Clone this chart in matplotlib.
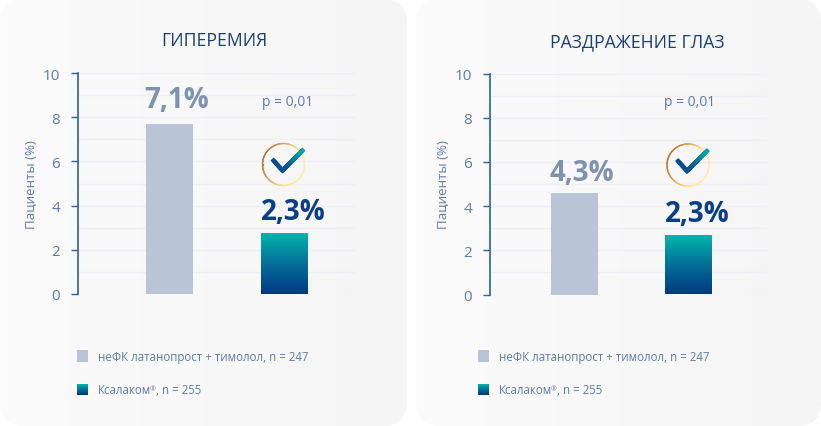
#!/usr/bin/env python3

import numpy as np
import matplotlib
matplotlib.use('Agg')
import matplotlib.pyplot as plt
from matplotlib.colors import LinearSegmentedColormap
from matplotlib.patches import FancyBboxPatch, Rectangle
from matplotlib.ticker import MultipleLocator

plt.rcParams['font.family'] = ['Open Sans', 'DejaVu Sans']

W, H = 821, 427

titles = ['ГИПЕРЕМИЯ', 'РАЗДРАЖЕНИЕ ГЛАЗ']
comparator = [7.7, 4.6]
xalacom = [2.75, 2.65]
comparator_labels = ['7,1%', '4,3%']
xalacom_labels = ['2,3%', '2,3%']
p_labels = ['p = 0,01', 'p = 0,01']
ylabel = 'Пациенты (%)'
legend_first = 'неФК латанопрост + тимолол, n = 247'
legend_second = ['Ксалаком', '®', ', n = 255']

BLUE = '#2f619f'
TICK = '#5f7ba8'
GREY_BAR = '#b9c5d6'
GREY_TEXT = '#8093ae'
NAVY = '#0a3f85'
TITLE = '#1d3f74'
bar_cmap = LinearSegmentedColormap.from_list('bar', ['#00b5ac', '#066f98', '#003a82'])
ring_cmap = LinearSegmentedColormap.from_list('ring', ['#bd7236', '#dda862', '#fbe48f', '#fdeeb0'])
check_cmap = LinearSegmentedColormap.from_list('check', ['#0a4a8c', '#0a5590', '#05a5a5'])
panel_cmap = LinearSegmentedColormap.from_list('panel', ['#fbfbfb', '#f5f5f6'])

fig = plt.figure(figsize=(W / 100, H / 100), dpi=100, facecolor='white')

# background layer in pixel coordinates, y pointing down
bg = fig.add_axes([0, 0, 1, 1], zorder=0)
bg.set_xlim(0, W)
bg.set_ylim(H, 0)
bg.axis('off')

fg = fig.add_axes([0, 0, 1, 1], zorder=5)
fg.set_xlim(0, W)
fg.set_ylim(H, 0)
fg.axis('off')
fg.patch.set_alpha(0)


def gradient_rect(ax, x0, y0, x1, y1, cmap, zorder=3):
    g = np.linspace(0, 1, 64)[:, None]
    ax.imshow(g, extent=(x0, x1, y1, y0), cmap=cmap, aspect='auto', zorder=zorder, interpolation='bilinear')


def draw_check(cx, cy):
    t = np.linspace(0, 2 * np.pi, 180)
    rx = cx + 21 * np.cos(t)
    ry = cy + 21 * np.sin(t)
    c = ring_cmap((np.cos(t - np.pi / 8) + 1) / 2)
    for i in range(len(t) - 1):
        fg.plot(rx[i:i + 2], ry[i:i + 2], color=c[i], lw=1.0, solid_capstyle='round')
    px = np.array([cx - 10, cx - 1, cx + 19])
    py = np.array([cy - 4, cy + 6, cy - 14])
    fx = np.concatenate([np.linspace(px[0], px[1], 12), np.linspace(px[1], px[2], 30)])
    fy = np.concatenate([np.linspace(py[0], py[1], 12), np.linspace(py[1], py[2], 30)])
    for i in range(len(fx) - 1):
        fg.plot(fx[i:i + 2], fy[i:i + 2], color=check_cmap(i / (len(fx) - 2)), lw=3.0,
                solid_capstyle='projecting')


panels = [(0, 407), (416, 821)]
axis_x = [78, 490]
grid_end = [355, 767]
bar_centers = [(169.5, 284), (574.5, 688)]
top_px = [74, 74.5]
bottom_px = [295, 295.5]
title_x = [214.5, 637]
title_y = [41, 42]
p_x = [288, 690]
p_y = [102, 102]
comp_label_y = [101, 174]
xal_label_y = [213, 215]
check_xy = [(283.5, 165.5), (688, 166)]
swatch_x = [77, 478]
legend_text_x = [98, 499]

for i in range(2):
    x0, x1 = panels[i]
    g = np.linspace(0, 1, 64)[None, :]
    im = bg.imshow(g, extent=(x0, x1, H, 0), cmap=panel_cmap, aspect='auto', zorder=1)
    box = FancyBboxPatch((x0 + 24, 24), x1 - x0 - 48, H - 48, boxstyle='round,pad=24,rounding_size=24',
                         transform=bg.transData, facecolor='none', edgecolor='none')
    bg.add_patch(box)
    im.set_clip_path(box)

    spacing = bar_centers[i][1] - bar_centers[i][0]
    ax = fig.add_axes([axis_x[i] / W, 1 - bottom_px[i] / H, (grid_end[i] - axis_x[i]) / W,
                       (bottom_px[i] - top_px[i]) / H], zorder=2)
    ax.patch.set_alpha(0)
    ax.set_xlim((axis_x[i] - bar_centers[i][0]) / spacing, (grid_end[i] - bar_centers[i][0]) / spacing)
    ax.set_ylim(0, 10)
    ax.yaxis.set_major_locator(MultipleLocator(2))
    ax.yaxis.set_minor_locator(MultipleLocator(1))
    ax.grid(True, which='both', axis='y', color='#eeeff4', lw=1.0)
    ax.set_axisbelow(True)
    ax.set_xticks([])
    for side in ['top', 'right', 'bottom']:
        ax.spines[side].set_visible(False)
    ax.spines['left'].set_color(BLUE)
    ax.spines['left'].set_linewidth(1.2)
    ax.tick_params(axis='y', which='major', length=5, width=1.0, color=BLUE, labelcolor=TICK,
                   labelsize=11, pad=8)
    ax.tick_params(axis='y', which='minor', length=0)
    ax.set_ylabel(ylabel, color=TICK, fontsize=9.6, labelpad=3.5)

    ax.bar(0, comparator[i], width=0.41, color=GREY_BAR, zorder=3)
    xlim = ax.get_xlim()
    bars = ax.bar(1, xalacom[i], width=0.41, color='none', zorder=3)
    b = bars[0]
    g2 = np.linspace(0, 1, 64)[:, None]
    ax.imshow(g2, extent=(b.get_x(), b.get_x() + b.get_width(), 0, b.get_height()), cmap=bar_cmap,
              aspect='auto', zorder=3)
    ax.set_xlim(xlim)
    ax.set_ylim(0, 10)

    fg.text(title_x[i], title_y[i], titles[i], ha='center', va='center', fontsize=12.7, color=TITLE)
    fg.text(p_x[i], p_y[i], p_labels[i], ha='center', va='center', fontsize=10, color=TICK)
    fg.text(bar_centers[i][0] + 7, comp_label_y[i], comparator_labels[i], ha='center', va='center',
            fontsize=20, fontweight='bold', color=GREY_TEXT)
    fg.text(bar_centers[i][1] + 9, xal_label_y[i], xalacom_labels[i], ha='center', va='center',
            fontsize=20, fontweight='bold', color=NAVY)
    draw_check(*check_xy[i])

    fg.add_patch(Rectangle((swatch_x[i], 351), 11, 12, facecolor=GREY_BAR, edgecolor='none'))
    gradient_rect(fg, swatch_x[i], 385, swatch_x[i] + 11, 396, bar_cmap)
    fg.text(legend_text_x[i], 357.5, legend_first, ha='left', va='center', fontsize=8.3, color=TICK)
    t1 = fg.text(legend_text_x[i], 391, legend_second[0], ha='left', va='center', fontsize=8.3, color=TICK)
    fg.annotate(legend_second[1], xy=(1, 0.6), xycoords=t1, xytext=(-1, 0), textcoords='offset points',
                ha='left', va='center', fontsize=5, color=TICK)
    fg.annotate(legend_second[2], xy=(1, 0), xycoords=t1, xytext=(3.5, 0), textcoords='offset points',
                ha='left', va='bottom', fontsize=8.3, color=TICK)

fg.set_xlim(0, W)
fg.set_ylim(H, 0)
bg.set_xlim(0, W)
bg.set_ylim(H, 0)

fig.savefig('out.png', dpi=100)
